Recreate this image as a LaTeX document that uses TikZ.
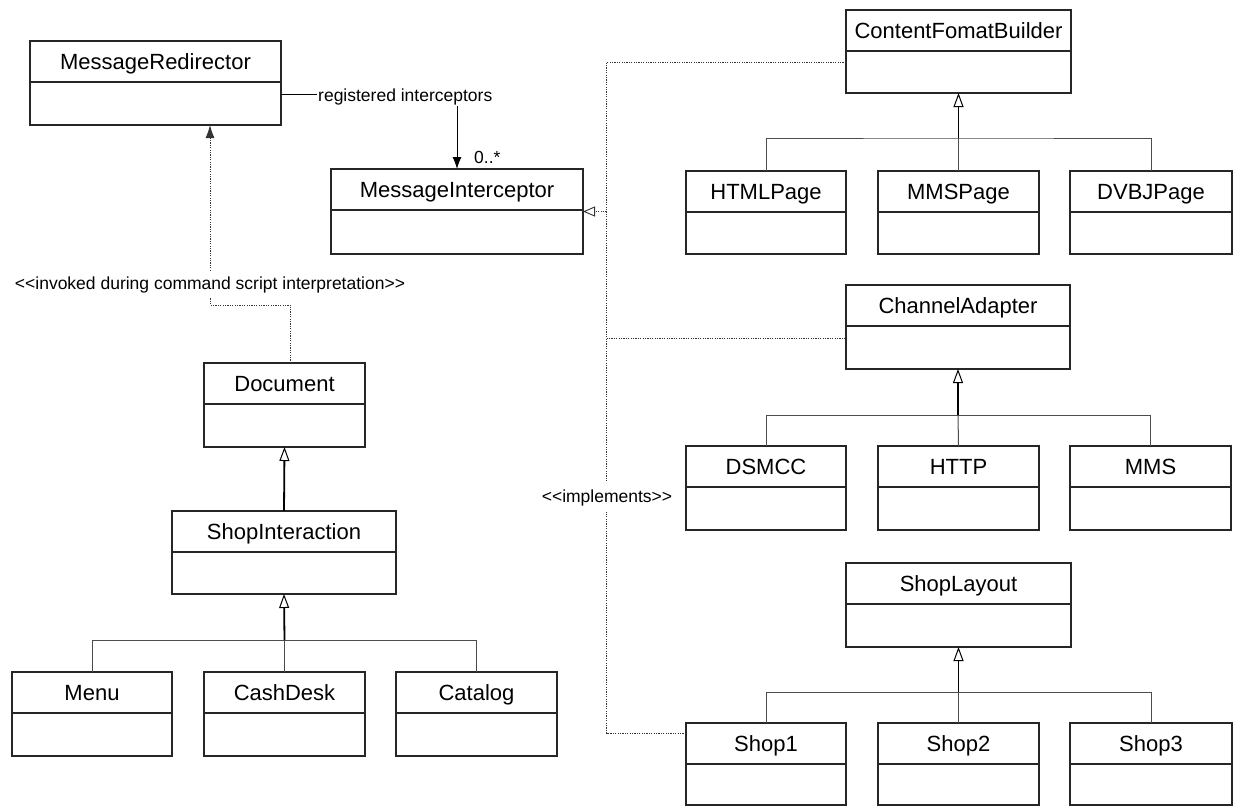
\documentclass[tikz,border=0pt]{standalone}
\usepackage{fontspec}
\setmainfont{Liberation Sans}
\usetikzlibrary{arrows.meta,calc}

\tikzset{
  classbox/.style={draw=black!85, line width=1.1pt, rectangle, inner sep=0pt, outer sep=0pt, fill=white},
  classline/.style={draw=black!85, line width=1.1pt},
  classtitle/.style={font=\fontsize{22}{24}\selectfont, inner sep=0pt, text height=18pt, text depth=3pt},
  note/.style={font=\fontsize{17.5}{20}\selectfont, inner sep=1pt},
  gen/.style={draw=black, line width=1.8pt, -{Triangle[open, length=14pt, width=10pt, line width=1pt]}},
  branch/.style={draw=black!70, line width=1pt},
  dep/.style={draw=black!80, line width=0.9pt, dash pattern=on 1.2pt off 1.2pt},
  assoc/.style={draw=black, line width=1pt},
}

% #1 name, #2 left, #3 top, #4 right, #5 bottom, #6 class name
\newcommand\umlclass[6]{%
  \node[classbox, anchor=north west, minimum width={(#4-#2)*1pt}, minimum height={(#5-#3)*1pt}] (#1) at (#2,#3) {};
  \node[classtitle] (#1-name) at ($(#1.north)+(0,20.5)$) {#6};
  \draw[classline] ([yshift=-41pt]#1.north west) -- ([yshift=-41pt]#1.north east);
}

\begin{document}
\begin{tikzpicture}[x=1pt, y=-1pt]
\useasboundingbox (0,0) rectangle (1234,807);

% left column
\umlclass{MR}{30}{41}{281}{125}{MessageRedirector}
\umlclass{MI}{331}{169}{583}{254}{MessageInterceptor}
\umlclass{Doc}{204}{363}{365}{447}{Document}
\umlclass{SI}{172}{511}{396}{594}{ShopInteraction}
\umlclass{Menu}{12}{672}{172}{756}{Menu}
\umlclass{Cash}{204}{672}{365}{756}{CashDesk}
\umlclass{Cat}{396}{672}{557}{756}{Catalog}

% right column
\umlclass{CFB}{846}{10}{1071}{93}{ContentFomatBuilder}
\umlclass{HTML}{686}{171}{846}{254}{HTMLPage}
\umlclass{MMSP}{878}{171}{1039}{254}{MMSPage}
\umlclass{DVBJ}{1070}{171}{1232}{254}{DVBJPage}
\umlclass{CA}{846}{285}{1070}{369}{ChannelAdapter}
\umlclass{DSMCC}{686}{446}{846}{530}{DSMCC}
\umlclass{HTTP}{878}{446}{1039}{530}{HTTP}
\umlclass{MMS}{1070}{446}{1231}{530}{MMS}
\umlclass{SL}{846}{563}{1071}{647}{ShopLayout}
\umlclass{ShopA}{686}{723}{846}{805}{Shop1}
\umlclass{ShopB}{878}{723}{1039}{805}{Shop2}
\umlclass{ShopC}{1070}{723}{1232}{805}{Shop3}

% association MessageRedirector -> MessageInterceptor
\node[note, anchor=base west] (reg) at (317,101.5) {registered interceptors};
\draw[assoc] ([yshift=-11pt]MR.east) coordinate (assocstart) -- (assocstart -| reg.west);
\draw[assoc, -{Latex[length=12pt, width=9pt]}] (reg.south -| MI.north) -- (MI.north);
\node[note, anchor=base west] (mult) at (473,163) {0..*};

% dependency Document -> MessageRedirector
\coordinate (bend) at (210,305);
\draw[dep, -{Latex[length=13pt, width=9pt]}] ([xshift=6pt]Doc.north) |- (bend) -- (bend |- MR.south);
\node[note, anchor=base, fill=white, inner sep=4pt] (invoked) at (210,289) {<{}<invoked during command script interpretation>{}>};

% inheritance
\draw[gen] (SI.north) -- (Doc.south);

\coordinate (sibar) at (284.5,640);
\draw[branch] (Menu.north) |- (sibar) -| (Cat.north);
\draw[branch] (Cash.north) -- (sibar);
\draw[gen] (sibar) -- (SI.south);

\coordinate (cfbbar) at (958.5,138);
\draw[branch] (HTML.north) |- (cfbbar) -| (DVBJ.north);
\draw[branch] (MMSP.north) -- (cfbbar);
\draw[gen] (cfbbar) -- (CFB.south);

\coordinate (cabar) at (958,415);
\draw[branch] (DSMCC.north) |- (cabar) -| (MMS.north);
\draw[branch] (HTTP.north) -- (cabar);
\draw[gen] (cabar) -- (CA.south);

\coordinate (slbar) at (958.5,692);
\draw[branch] (ShopA.north) |- (slbar) -| (ShopC.north);
\draw[branch] (ShopB.north) -- (slbar);
\draw[gen] (slbar) -- (SL.south);

% realization spine towards MessageInterceptor
\coordinate (spinetop) at (606.5,62);
\coordinate (spinemi) at (606.5,211.5);
\coordinate (spineca) at (606.5,338);
\coordinate (spinebot) at (606.5,733);
\draw[dep] (CFB.west |- spinetop) -- (spinetop) -- (spinebot) -- (ShopA.west |- spinebot);
\draw[dep] (spineca) -- (CA.west |- spineca);
\draw[dep, -{Triangle[open, length=12pt, width=10pt, line width=0.9pt]}] (spinemi) -- (MI.east);
\node[note, anchor=base, fill=white, inner xsep=2pt, inner ysep=6pt] (impl) at (607,502) {<{}<implements>{}>};
\end{tikzpicture}
\end{document}
